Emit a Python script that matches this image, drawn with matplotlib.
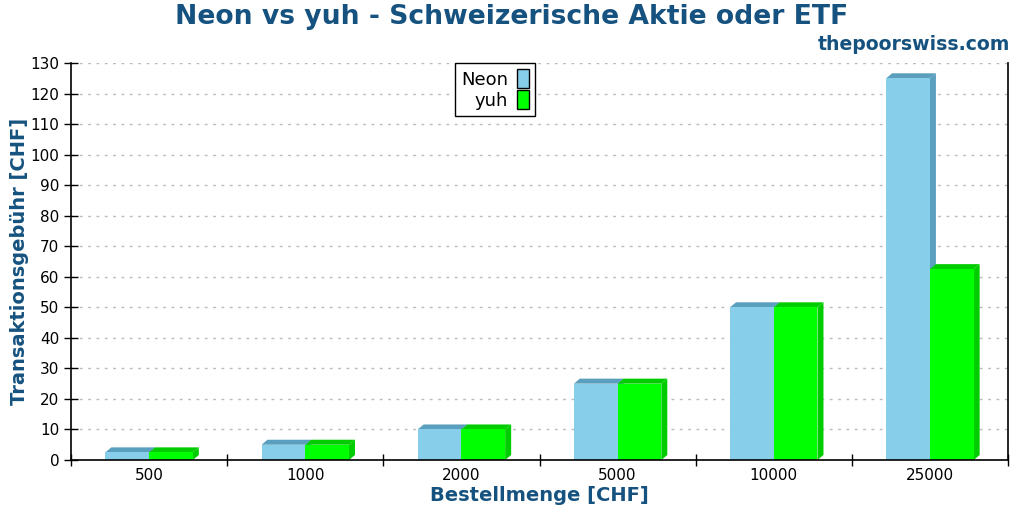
import matplotlib
matplotlib.use("Agg")
import matplotlib.pyplot as plt
import matplotlib.transforms as mtransforms
from matplotlib.patches import Patch, Polygon
import numpy as np

categories = ["500", "1000", "2000", "5000", "10000", "25000"]
neon = [2.5, 5, 10, 25, 50, 125]
yuh = [2.5, 5, 10, 25, 50, 62.5]
yticks = list(range(0, 131, 10))

title_color = "#16527F"
neon_front, neon_back = "#87CEEB", "#5A9FBD"
yuh_front, yuh_back = "#00FF00", "#00CC00"

fig = plt.figure(figsize=(10.24, 5.12), dpi=100)
ax = fig.add_axes([71/1024, 52/512, (1008-71)/1024, (460-63)/512])

x = np.arange(len(categories))
w = 0.28
ax.set_xlim(-0.5, len(categories) - 0.5)
ax.set_ylim(0, 130)

DX, DY = 6, 5  # depth in pixels
ident = mtransforms.IdentityTransform()


def bar3d(lefts, heights, width, front, back, z):
    bars = ax.bar(lefts, heights, width=width, align="edge", color=front, zorder=z + 1, linewidth=0)
    for b in bars:
        (x0, y0), (x1, y1) = ax.transData.transform([(b.get_x(), 0), (b.get_x() + b.get_width(), b.get_height())])
        top = [(x0, y1), (x1, y1), (x1 + DX, y1 + DY), (x0 + DX, y1 + DY)]
        side = [(x1, y0), (x1 + DX, y0 + DY), (x1 + DX, y1 + DY), (x1, y1)]
        for verts in (top, side):
            ax.add_patch(Polygon(verts, closed=True, transform=ident, facecolor=back,
                                 edgecolor="none", zorder=z, clip_on=False))


bar3d(x - w, neon, w, neon_front, neon_back, 2)
bar3d(x, yuh, w, yuh_front, yuh_back, 4)

ax.set_yticks(yticks)
ax.set_xticks(np.arange(len(categories) + 1) - 0.5)
ax.set_xticklabels([])
ax.set_xticks(x, minor=True)
ax.set_xticklabels(categories, minor=True, fontsize=11)
ax.tick_params(axis="x", which="major", direction="inout", length=9, width=1)
ax.tick_params(axis="x", which="minor", length=0, pad=6)
ax.tick_params(axis="y", direction="inout", length=10, width=1, labelsize=11)
ax.yaxis.grid(True, color="#BBBBBB", linestyle=(0, (2, 4)), linewidth=1)
ax.set_axisbelow(True)
for s in ["left", "bottom", "right"]:
    ax.spines[s].set_color("black")
    ax.spines[s].set_linewidth(1.2)
    ax.spines[s].set_zorder(8)
ax.spines["top"].set_visible(False)

ax.set_xlabel("Bestellmenge [CHF]", fontsize=14, fontweight="bold", color=title_color, labelpad=2)
ax.set_ylabel("Transaktionsgebühr [CHF]", fontsize=14, fontweight="bold", color=title_color, labelpad=1)

fig.text(0.5, 1 - 16.5/512, "Neon vs yuh - Schweizerische Aktie oder ETF", ha="center", va="center",
         fontsize=19.2, fontweight="bold", color=title_color)
fig.text(1010/1024, 1 - 45/512, "thepoorswiss.com", ha="right", va="center",
         fontsize=13.6, fontweight="bold", color=title_color)

handles = [Patch(facecolor=neon_front, edgecolor="black", label="Neon"),
           Patch(facecolor=yuh_front, edgecolor="black", label="yuh")]
leg = ax.legend(handles=handles, loc="upper center", bbox_to_anchor=(495/1024, 1 - 63/512),
                bbox_transform=fig.transFigure, markerfirst=False, fancybox=False, framealpha=1,
                edgecolor="black", fontsize=13, handlelength=0.65, handleheight=1.2,
                handletextpad=0.5, labelspacing=0.1, borderpad=0.35, borderaxespad=0)
leg.get_frame().set_linewidth(1)
leg.set_zorder(10)

fig.savefig("out.png", dpi=100)
